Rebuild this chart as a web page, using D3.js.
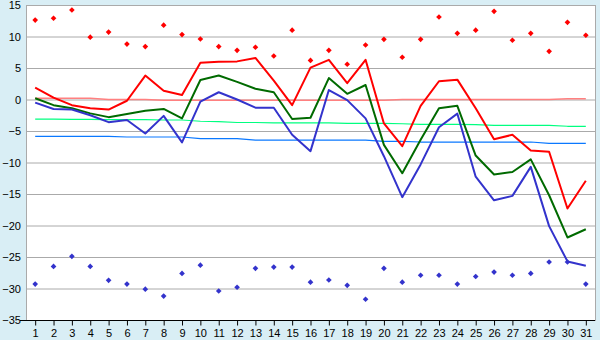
<!DOCTYPE html>
<html><head><meta charset="utf-8">
<script src="https://cdn.jsdelivr.net/npm/d3@7"></script>
<style>
html,body{margin:0;padding:0;background:#d9eef5;}
svg{display:block;}
text{font-family:"Liberation Sans",Arial,sans-serif;font-size:11px;fill:#000;}
</style></head>
<body><svg id="c" width="600" height="340"></svg>
<script>
const days = d3.range(1, 32);
const yTicks = [15, 10, 5, 0, -5, -10, -15, -20, -25, -30, -35];

const maxPoints = [12.6,12.9,14.2,9.9,10.7,8.8,8.4,11.8,10.3,9.6,8.4,7.8,8.3,6.9,11.0,6.2,7.8,5.6,8.65,9.55,6.7,9.55,13.1,10.5,11.0,14.0,9.4,10.5,7.65,12.25,10.2];
const minPoints = [-29.3,-26.5,-24.9,-26.5,-28.7,-29.3,-30.1,-31.2,-27.6,-26.3,-30.4,-29.8,-26.8,-26.6,-26.6,-29.0,-28.65,-29.5,-31.7,-26.8,-29.0,-27.9,-27.9,-29.3,-28.1,-27.4,-27.9,-27.6,-25.8,-25.8,-29.3];
const maxLine = [1.9,0.3,-0.9,-1.4,-1.6,-0.2,3.8,1.4,0.7,5.85,6.0,6.05,6.6,3.0,-0.9,5.05,6.3,2.6,6.3,-3.8,-7.4,-1.0,2.9,3.15,-1.4,-6.3,-5.6,-8.1,-8.3,-17.3,-12.9];
const meanLine = [0.2,-0.9,-1.4,-2.2,-2.8,-2.3,-1.8,-1.5,-3.0,3.1,3.8,2.8,1.7,1.15,-3.1,-2.9,3.4,0.9,2.3,-7.2,-11.7,-6.4,-1.4,-1.0,-8.9,-11.9,-11.5,-9.5,-15.2,-21.9,-20.6];
const minLine = [-0.5,-1.5,-1.6,-2.5,-3.6,-3.25,-5.4,-2.6,-6.8,-0.35,1.15,0.0,-1.3,-1.3,-5.6,-8.2,1.5,-0.1,-3.0,-9.0,-15.5,-10.3,-4.4,-2.25,-12.25,-16.0,-15.3,-10.7,-20.1,-25.7,-26.4];
const normMax = [0.2,0.2,0.2,0.2,0.0,0.0,0.0,-0.1,-0.1,-0.1,-0.1,-0.1,-0.1,-0.1,-0.1,-0.1,-0.1,-0.1,-0.1,-0.1,0.0,0.0,0.0,0.0,0.0,0.0,0.0,0.0,0.0,0.1,0.1];
const normMean = [-3.1,-3.1,-3.15,-3.15,-3.2,-3.2,-3.2,-3.25,-3.25,-3.45,-3.5,-3.65,-3.65,-3.7,-3.7,-3.7,-3.7,-3.8,-3.8,-3.8,-3.85,-3.95,-3.95,-3.95,-4.0,-4.1,-4.1,-4.1,-4.1,-4.25,-4.25];
const normMin = [-5.85,-5.85,-5.85,-5.85,-5.85,-5.95,-5.95,-5.95,-5.95,-6.2,-6.2,-6.2,-6.45,-6.45,-6.45,-6.45,-6.45,-6.45,-6.45,-6.65,-6.65,-6.75,-6.75,-6.75,-6.75,-6.75,-6.75,-6.75,-6.95,-6.95,-6.95];

const svg = d3.select("#c");
const L = 26, R = 595, T = 5, B = 320;
const x = d3.scalePoint().domain(days).range([L, R]).padding(0.5);
const y = d3.scaleLinear().domain([-35, 15]).range([B, T]);

svg.append("rect").attr("x", L).attr("y", T).attr("width", R - L).attr("height", B - T).attr("fill", "#fff");

// grid
svg.append("g").selectAll("line").data(yTicks).join("line")
  .attr("x1", L).attr("x2", R)
  .attr("y1", d => y(d) + 0.5).attr("y2", d => y(d) + 0.5)
  .attr("stroke", "#aaaaaa").attr("stroke-width", 1);
// frame sides
svg.append("line").attr("x1", L + 0.5).attr("x2", L + 0.5).attr("y1", T).attr("y2", B).attr("stroke", "#aaaaaa");
svg.append("line").attr("x1", R + 0.5).attr("x2", R + 0.5).attr("y1", T).attr("y2", B + 1).attr("stroke", "#aaaaaa");

// y axis labels
const yAxis = d3.axisLeft(y).tickValues(yTicks).tickSize(0).tickPadding(5).tickFormat(d3.format("d"));
const gy = svg.append("g").attr("transform", `translate(${L},0)`).call(yAxis);
gy.select(".domain").remove();
gy.selectAll("text").style("font-family", "Liberation Sans, Arial, sans-serif").style("font-size", "11px").attr("fill", "#000");

// x axis
const xAxis = d3.axisBottom(x).tickSize(5).tickPadding(4);
const gx = svg.append("g").attr("transform", `translate(0,${B + 0.5})`).call(xAxis);
gx.select(".domain").attr("d", `M${L - 6},0H${R}`).attr("stroke", "#000");
gx.selectAll(".tick line").attr("stroke", "#000");
gx.selectAll("text").style("font-family", "Liberation Sans, Arial, sans-serif").style("font-size", "11px").attr("fill", "#000");

const line = d3.line().x((d, i) => x(days[i])).y(d => y(d));

function drawLine(data, color, w) {
  svg.append("path").datum(data).attr("d", line)
    .attr("fill", "none").attr("stroke", color).attr("stroke-width", w)
    .attr("stroke-linejoin", "round");
}
drawLine(normMax, "#ff8080", 1.5);
drawLine(normMean, "#00ff80", 1.2);
drawLine(normMin, "#0a78ff", 1.2);
drawLine(maxLine, "#ff0000", 2);
drawLine(meanLine, "#006a00", 2);
drawLine(minLine, "#3333cc", 2);

const marker = d3.symbol().type(d3.symbolSquare).size(16);
function drawPts(data, color) {
  svg.append("g").selectAll("path").data(data).join("path")
    .attr("d", marker)
    .attr("transform", (d, i) => `translate(${x(days[i])},${y(d)}) rotate(45)`)
    .attr("fill", color);
}
drawPts(maxPoints, "#ff0000");
drawPts(minPoints, "#3333cc");
</script></body></html>
